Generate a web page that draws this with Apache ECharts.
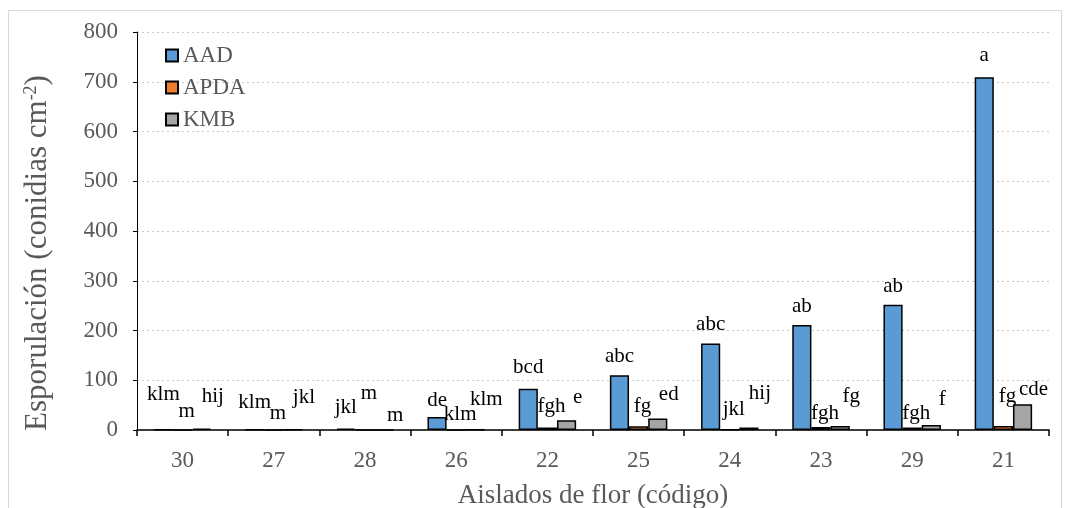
<!DOCTYPE html>
<html>
<head>
<meta charset="utf-8">
<script src="https://cdn.jsdelivr.net/npm/echarts@6/dist/echarts.min.js"></script>
<style>
html,body{margin:0;padding:0;background:#fff;}
#c{width:1068px;height:508px;}
</style>
</head>
<body>
<div id="c"></div>
<script>
const categories = ['30','27','28','26','22','25','24','23','29','21'];
const aad  = [1.5, 1.5, 3, 26, 83, 110, 174, 211, 252, 709];
const apda = [0.5, 0.5, 0.3, 0.5, 5, 7.5, 1.5, 6, 5, 8];
const kmb  = [3, 1.5, 0.3, 1, 19.5, 23, 5, 8, 10, 52];
// letter groups and the height (data units) where each letter sits
const aadLetters  = ['klm','klm','jkl','de','bcd','abc','abc','ab','ab','a'];
const apdaLetters = ['m','m','m','klm','fgh','fg','jkl','fgh','fgh','fg'];
const kmbLetters  = ['hij','jkl','m','klm','e','ed','hij','fg','f','cde'];
const aadTop  = [50, 34, 24, 38, 104, 127, 191, 228, 268, 731];
const apdaTop = [16, 12, 52, 10, 26, 26, 20, 13, 13, 47];
const kmbTop  = [47, 44, 8, 40, 45, 50, 53, 47, 40, 60];
const yTicks = [0,100,200,300,400,500,600,700,800];
const yTitle = 'Esporulación (conidias cm{sup|-2})';
const xTitle = 'Aislados de flor (código)';

const FONT = '"Liberation Serif","Times New Roman",serif';
const GRAY = '#595959';

function mk(name, vals, tops, letters, color, dx) {
  return [
    {
      name: name, type: 'bar', stack: name, data: vals,
      barGap: '0%', barCategoryGap: '37%',
      itemStyle: {color: color, borderColor: '#000', borderWidth: 1.5},
      emphasis: {disabled: true}
    },
    {
      name: name + '_lbl', type: 'bar', stack: name, silent: true,
      data: tops.map((t, i) => Math.max(t - vals[i], 0)),
      barGap: '0%', barCategoryGap: '37%',
      itemStyle: {color: 'rgba(0,0,0,0)', borderWidth: 0},
      label: {
        show: true, position: 'top', distance: 0, offset: [dx, 0],
        formatter: p => letters[p.dataIndex],
        fontFamily: FONT, fontSize: 21, color: '#000'
      },
      emphasis: {disabled: true}
    }
  ];
}

const chart = echarts.init(document.getElementById('c'), null, {renderer: 'canvas'});
chart.setOption({
  animation: false,
  backgroundColor: '#fff',
  graphic: [
    {
      type: 'rect', shape: {x: 8.5, y: 10.5, width: 1053, height: 520},
      style: {fill: 'none', stroke: '#D9D9D9', lineWidth: 1}, silent: true, z: -1
    },
    {
      type: 'text', x: 38, y: 253, rotation: Math.PI / 2, silent: true,
      style: {
        text: yTitle, align: 'center', verticalAlign: 'middle',
        fontFamily: FONT, fontSize: 31, fill: GRAY,
        rich: {sup: {fontFamily: FONT, fontSize: 18, fill: GRAY, verticalAlign: 'top', lineHeight: 31}}
      }
    }
  ],
  grid: {left: 137, right: 19, top: 32, bottom: 78, containLabel: false, outerBoundsMode: 'none'},
  legend: {
    data: ['AAD','APDA','KMB'],
    orient: 'vertical', left: 160, top: 39,
    itemWidth: 12, itemHeight: 12, itemGap: 9,
    icon: 'rect',
    textStyle: {fontFamily: FONT, fontSize: 23, color: GRAY}
  },
  xAxis: {
    type: 'category', data: categories,
    name: xTitle, nameLocation: 'middle', nameGap: 52,
    nameTextStyle: {fontFamily: FONT, fontSize: 27, color: GRAY},
    axisLine: {lineStyle: {color: '#000', width: 1.5}},
    axisTick: {show: true, alignWithLabel: false, length: 6, lineStyle: {color: '#000', width: 1.5}},
    axisLabel: {fontFamily: FONT, fontSize: 23, color: GRAY, margin: 19}
  },
  yAxis: {
    type: 'value', min: 0, max: 800, interval: 100,
    axisLine: {show: true, lineStyle: {color: '#000', width: 1}},
    axisTick: {show: true, length: 4, lineStyle: {color: '#000'}},
    axisLabel: {fontFamily: FONT, fontSize: 23, color: GRAY, margin: 19,
      formatter: v => yTicks.includes(v) ? String(v) : ''},
    splitLine: {show: true, lineStyle: {color: '#C8C8C8', type: [2, 3], width: 1}}
  },
  series: [].concat(
    mk('AAD', aad, aadTop, aadLetters, '#5B9BD5', 0),
    mk('APDA', apda, apdaTop, apdaLetters, '#ED7D31', 4),
    mk('KMB', kmb, kmbTop, kmbLetters, '#A5A5A5', 11)
  )
});
</script>
</body>
</html>
